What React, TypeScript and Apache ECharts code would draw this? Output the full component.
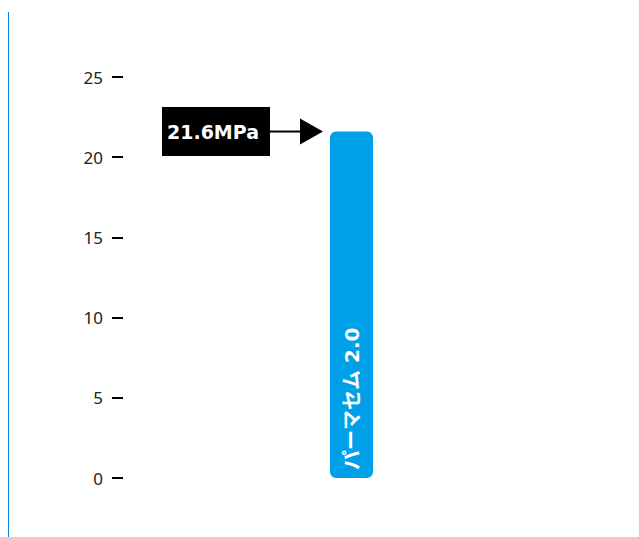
import React, { useEffect, useRef } from "react";
import * as echarts from "echarts";

const categories = ["パーマセム 2.0"];
const values = [21.6];
const calloutLabel = "21.6MPa";
const yMin = 0;
const yMax = 25;
const yInterval = 5;

export default function App() {
  const ref = useRef<HTMLDivElement>(null);
  useEffect(() => {
    if (!ref.current) return;
    const chart = echarts.init(ref.current, null, { renderer: "svg" });
    const barWidth = 43;
    chart.setOption({
      animation: false,
      grid: { left: 115, right: 59, top: 69, bottom: 59 },
      xAxis: {
        type: "category",
        data: categories,
        show: false,
      },
      yAxis: {
        type: "value",
        min: yMin,
        max: yMax,
        interval: yInterval,
        axisLine: { show: false },
        axisTick: { show: true, length: 11, lineStyle: { color: "#000", width: 2 } },
        splitLine: { show: false },
        axisLabel: {
          margin: 20,
          fontSize: 17,
          color: "#222",
          fontFamily: "Noto Sans",
        },
      },
      series: [
        {
          type: "bar",
          data: values,
          barWidth,
          itemStyle: { color: "#00a0e9", borderRadius: 6 },
          label: {
            show: true,
            position: "insideBottom",
            rotate: 90,
            align: "left",
            verticalAlign: "middle",
            distance: 8,
            formatter: "{b}",
            color: "#fff",
            fontSize: 20,
            fontWeight: "bold",
            fontFamily: "'DejaVu Sans', 'Noto Sans CJK JP'",
          },
        },
      ],
    });
    const cx = chart.convertToPixel({ xAxisIndex: 0 }, 0) as number;
    const ty = chart.convertToPixel({ yAxisIndex: 0 }, values[0]) as number;
    const tipX = cx - barWidth / 2 - 7;
    const triW = 23;
    const lineLen = 30;
    const boxW = 108;
    const boxH = 49;
    const boxRight = tipX - triW - lineLen;
    chart.setOption({
      graphic: [
        {
          type: "line",
          shape: { x1: 0.5, y1: 4, x2: 0.5, y2: 529 },
          style: { stroke: "#0a7fd6", lineWidth: 1 },
        },
        {
          type: "rect",
          shape: { x: boxRight - boxW, y: ty - boxH / 2, width: boxW, height: boxH },
          style: { fill: "#000" },
        },
        {
          type: "text",
          x: boxRight - boxW / 2 - 3,
          y: ty,
          style: {
            text: calloutLabel,
            fill: "#fff",
            font: "bold 19px 'DejaVu Sans'",
            align: "center",
            verticalAlign: "middle",
          },
        },
        {
          type: "line",
          shape: { x1: boxRight, y1: ty, x2: tipX - triW + 1, y2: ty },
          style: { stroke: "#000", lineWidth: 2 },
        },
        {
          type: "polygon",
          shape: {
            points: [
              [tipX - triW, ty - 13],
              [tipX, ty],
              [tipX - triW, ty + 13],
            ],
          },
          style: { fill: "#000" },
        },
      ],
    });
    return () => chart.dispose();
  }, []);
  return <div ref={ref} style={{ width: 631, height: 529 }} />;
}
